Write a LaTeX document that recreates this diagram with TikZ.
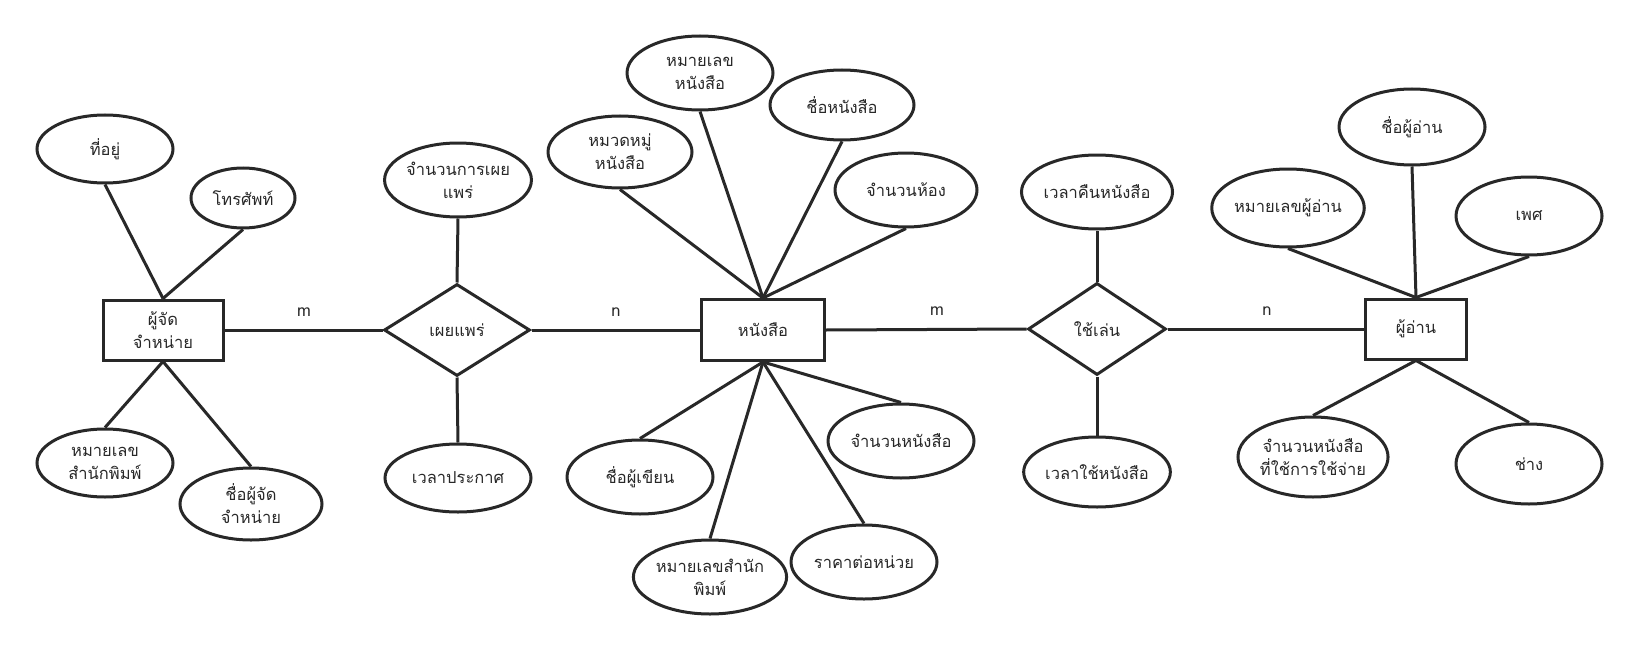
\documentclass[tikz,border=0pt]{standalone}
\usepackage{fontspec}
\newfontfamily\thaifont[Script=Thai]{Loma}
\usetikzlibrary{shapes.geometric}
\definecolor{ln}{RGB}{40,40,40}
\definecolor{tx}{RGB}{40,40,40}
\tikzset{
  base/.style={draw=ln, line width=3pt, text=tx, font=\thaifont\fontsize{16.5}{23}\selectfont, align=center, inner sep=0pt},
  entity/.style={base, rectangle},
  rel/.style={base, diamond, minimum width=146pt, minimum height=92pt},
  attr/.style={base, ellipse},
  card/.style={text=tx, font=\thaifont\fontsize{16.5}{18}\selectfont, inner sep=0pt},
  conn/.style={draw=ln, line width=3pt}
}
\newcommand{\attrnode}[6]{\node[attr, minimum width=#4pt, minimum height=#5pt] (#1) at (#2,#3) {#6};}
\begin{document}
\begin{tikzpicture}[x=1pt,y=-1pt]
\useasboundingbox[fill=white] (0,0) rectangle (1637,650);
% entities
\node[entity, minimum width=120pt, minimum height=60pt] (e1) at (163,330) {ผู้จัด\\จำหน่าย};
\node[entity, minimum width=123pt, minimum height=61pt] (e2) at (763,330) {หนังสือ};
\node[entity, minimum width=101pt, minimum height=60pt] (e3) at (1416,329) {ผู้อ่าน};
% relationships
\node[rel] (r1) at (457,330) {เผยแพร่};
\node[rel, minimum width=138pt] (r2) at (1097,329) {ใช้เล่น};
% attributes
\attrnode{a1}{105}{149}{136}{68}{ที่อยู่}
\attrnode{a2}{243}{198}{104}{60}{โทรศัพท์}
\attrnode{a3}{105}{463}{136}{68}{หมายเลข\\สำนักพิมพ์}
\attrnode{a4}{251}{504}{142}{72}{ชื่อผู้จัด\\จำหน่าย}
\attrnode{a5}{458}{180}{146}{74}{จำนวนการเผย\\แพร่}
\attrnode{a6}{458}{478}{146}{68}{เวลาประกาศ}
\attrnode{a7}{620}{152}{144}{72}{หมวดหมู่\\หนังสือ}
\attrnode{a8}{700}{73}{146}{74}{หมายเลข\\หนังสือ}
\attrnode{a9}{842}{105}{144}{70}{ชื่อหนังสือ}
\attrnode{a10}{906}{190}{142}{74}{จำนวนห้อง}
\attrnode{a11}{640}{477}{146}{74}{ชื่อผู้เขียน}
\attrnode{a12}{710}{577}{146}{74}{หมายเลขสำนัก\\พิมพ์}
\attrnode{a13}{864}{562}{146}{74}{ราคาต่อหน่วย}
\attrnode{a14}{901}{441}{146}{74}{จำนวนหนังสือ}
\attrnode{a15}{1097}{192}{140}{74}{เวลาคืนหนังสือ}
\attrnode{a16}{1097}{472}{144}{70}{เวลาใช้หนังสือ}
\attrnode{a17}{1412}{127}{146}{76}{ชื่อผู้อ่าน}
\attrnode{a18}{1288}{208}{146}{78}{หมายเลขผู้อ่าน}
\attrnode{a19}{1529}{216}{146}{78}{เพศ}
\attrnode{a20}{1313}{457}{146}{80}{จำนวนหนังสือ\\ที่ใช้การใช้จ่าย}
\attrnode{a21}{1529}{464}{146}{80}{ช่าง}
% cardinalities
\node[card] (c1) at (304,312) {m};
\node[card] (c2) at (616,312) {n};
\node[card] (c3) at (937,311) {m};
\node[card] (c4) at (1267,311) {n};
% connectors
\draw[conn] (e1.east) -- (r1.west);
\draw[conn] (r1.east) -- (e2.west);
\draw[conn] (e2.east) -- (r2.west);
\draw[conn] (r2.east) -- (e3.west);
\draw[conn] (e1.north) -- (a1.south);
\draw[conn] (e1.north) -- (a2.south);
\draw[conn] (e1.south) -- (a3.north);
\draw[conn] (e1.south) -- (a4.north);
\draw[conn] (r1.north) -- (a5.south);
\draw[conn] (r1.south) -- (a6.north);
\draw[conn] (e2.north) -- (a7.south);
\draw[conn] (e2.north) -- (a8.south);
\draw[conn] (e2.north) -- (a9.south);
\draw[conn] (e2.north) -- (a10.south);
\draw[conn] (e2.south) -- (a11.north);
\draw[conn] (e2.south) -- (a12.north);
\draw[conn] (e2.south) -- (a13.north);
\draw[conn] (e2.south) -- (a14.north);
\draw[conn] (r2.north) -- (a15.south);
\draw[conn] (r2.south) -- (a16.north);
\draw[conn] (e3.north) -- (a17.south);
\draw[conn] (e3.north) -- (a18.south);
\draw[conn] (e3.north) -- (a19.south);
\draw[conn] (e3.south) -- (a20.north);
\draw[conn] (e3.south) -- (a21.north);
\end{tikzpicture}
\end{document}
